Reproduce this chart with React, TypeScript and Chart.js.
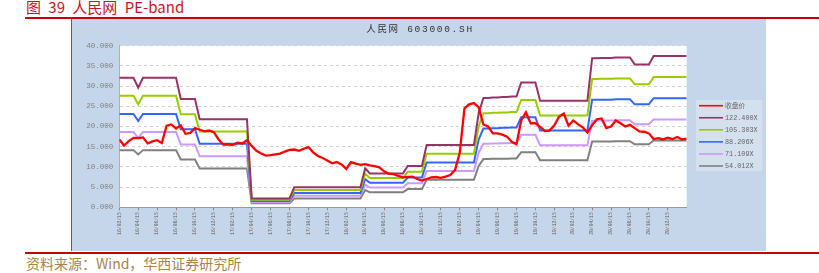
import React, { useEffect, useRef } from 'react';
import { Chart, registerables } from 'chart.js';

Chart.register(...registerables);

const chartTitle = '人民网 603000.SH';
const closeLabel = '收盘价';

const tickLabels = [
  '16/02/15', '16/04/15', '16/06/15', '16/08/15', '16/10/15', '16/12/15',
  '17/02/15', '17/04/15', '17/06/15', '17/08/15', '17/10/15', '17/12/15',
  '18/02/15', '18/04/15', '18/06/15', '18/08/15', '18/10/15', '18/12/15',
  '19/02/15', '19/04/15', '19/06/15', '19/08/15', '19/10/15', '19/12/15',
  '20/02/15', '20/04/15', '20/06/15', '20/08/15', '20/10/15', '20/12/15',
];

// semi-monthly closing price
const closePrice = [
  16.8, 15.3, 16.4, 17.2, 17.1, 17.3, 15.8, 16.3, 16.6, 15.9,
  20.2, 20.5, 19.5, 20.3, 18.2, 18.4, 19.6, 19.2, 18.8, 19.0,
  18.6, 16.8, 15.5, 15.6, 15.4, 16.0, 15.8, 16.6, 15.2, 14.0,
  13.3, 12.8, 12.9, 13.1, 13.3, 13.8, 14.2, 14.3, 14.0, 14.5,
  14.9, 13.6, 12.7, 12.2, 11.6, 10.9, 11.2, 10.6, 9.5, 11.2,
  10.8, 10.5, 10.7, 10.4, 10.2, 9.9, 8.9, 8.3, 8.2, 7.8,
  7.4, 7.5, 7.6, 7.0, 6.6, 7.0, 7.4, 7.5, 7.3, 7.6,
  8.0, 9.2, 13.5, 24.5, 25.5, 25.8, 24.8, 20.5, 20.0, 18.3,
  18.3, 18.0, 17.5, 16.2, 15.6, 21.5, 23.5, 20.8, 20.8, 19.9,
  18.9, 19.0, 20.3, 22.4, 23.2, 20.2, 21.5, 20.6, 19.8, 18.5,
  20.3, 21.8, 22.0, 19.6, 20.0, 21.5, 20.8, 20.0, 20.4, 19.6,
  18.8, 18.7, 18.3, 16.9, 17.1, 16.8, 17.2, 16.9, 17.4, 16.8,
  17.0,
];

// trailing EPS per point (band = EPS x PE multiple)
const eps = [
  0.262, 0.262, 0.262, 0.262, 0.242, 0.262, 0.262, 0.262, 0.262, 0.262,
  0.262, 0.262, 0.262, 0.219, 0.219, 0.219, 0.219, 0.178, 0.178, 0.178,
  0.178, 0.178, 0.178, 0.178, 0.178, 0.178, 0.178, 0.178, 0.018, 0.018,
  0.018, 0.018, 0.018, 0.018, 0.018, 0.018, 0.018, 0.0404, 0.0404, 0.0404,
  0.0404, 0.0404, 0.0404, 0.0404, 0.0404, 0.0404, 0.0404, 0.0404, 0.0404, 0.0404,
  0.0404, 0.0404, 0.079, 0.0686, 0.0686, 0.0686, 0.0686, 0.0686, 0.0686, 0.0686,
  0.0686, 0.0835, 0.0835, 0.0835, 0.0835, 0.126, 0.126, 0.126, 0.126, 0.126,
  0.126, 0.126, 0.126, 0.126, 0.126, 0.126, 0.19, 0.221, 0.221, 0.222,
  0.222, 0.223, 0.223, 0.224, 0.224, 0.2524, 0.2524, 0.2524, 0.2524, 0.2157,
  0.2157, 0.2157, 0.2157, 0.2157, 0.2157, 0.2157, 0.2157, 0.2157, 0.2157, 0.2157,
  0.3015, 0.3015, 0.302, 0.302, 0.302, 0.303, 0.303, 0.303, 0.303, 0.289,
  0.289, 0.289, 0.289, 0.306, 0.306, 0.306, 0.306, 0.306, 0.306, 0.306,
  0.306,
];

const peMultiples = [122.4, 105.303, 88.206, 71.109, 54.012];
const bandColors = ['#993366', '#99cc00', '#3366ff', '#cc99ff', '#808080'];
const closeColor = '#ff0000';

const MONO = '"Liberation Mono", "DejaVu Sans Mono", "Noto Sans CJK SC", monospace';
const CJK = '"Noto Sans CJK SC", "Noto Sans", sans-serif';

const CANVAS_W = 694;
const CANVAS_H = 232;

const plotBgPlugin = {
  id: 'plotBg',
  beforeDraw(chart: any) {
    const { ctx, chartArea } = chart;
    ctx.save();
    ctx.fillStyle = '#ffffff';
    ctx.fillRect(chartArea.left, chartArea.top, chartArea.right - chartArea.left, chartArea.bottom - chartArea.top);
    ctx.restore();
  },
};

const titlePlugin = {
  id: 'customTitle',
  afterDraw(chart: any) {
    const ctx = chart.ctx;
    ctx.save();
    ctx.font = `9.5px ${MONO}`;
    ctx.fillStyle = '#333333';
    ctx.textAlign = 'center';
    ctx.textBaseline = 'middle';
    (ctx as any).letterSpacing = '1.7px';
    ctx.fillText(chartTitle, chart.width / 2 + 1, 10);
    ctx.restore();
  },
};

const legendPlugin = {
  id: 'customLegend',
  afterDraw(chart: any) {
    const ctx = chart.ctx;
    const x0 = chart.chartArea.right + 9.3;
    const y0 = 81;
    ctx.save();
    ctx.fillStyle = '#d5e0ee';
    ctx.fillRect(x0, y0, 66, 71);
    chart.data.datasets.forEach((ds: any, i: number) => {
      const y = y0 + 5.7 + i * 12.06;
      ctx.strokeStyle = ds.borderColor;
      ctx.lineWidth = 1.6;
      ctx.beginPath();
      ctx.moveTo(x0 + 3, y);
      ctx.lineTo(x0 + 27, y);
      ctx.stroke();
      ctx.fillStyle = '#666666';
      ctx.font = `6.8px ${MONO}`;
      ctx.textAlign = 'left';
      ctx.textBaseline = 'middle';
      ctx.fillText(ds.label, x0 + 29, y + 0.5);
    });
    ctx.restore();
  },
};

export default function App() {
  const canvasRef = useRef<HTMLCanvasElement | null>(null);

  useEffect(() => {
    if (!canvasRef.current) return;
    const datasets: any[] = [
      {
        label: closeLabel,
        data: closePrice.map((y, x) => ({ x, y })),
        borderColor: closeColor,
        backgroundColor: closeColor,
        borderWidth: 2.3,
        pointRadius: 0,
        tension: 0,
      },
      ...peMultiples.map((m, k) => ({
        label: m.toFixed(3) + 'X',
        data: eps.map((e, x) => ({ x, y: e * m })),
        borderColor: bandColors[k],
        backgroundColor: bandColors[k],
        borderWidth: 2,
        pointRadius: 0,
        tension: 0,
      })),
    ];

    const chart = new Chart(canvasRef.current, {
      type: 'line',
      data: { datasets },
      plugins: [plotBgPlugin, titlePlugin, legendPlugin],
      options: {
        animation: false,
        responsive: false,
        maintainAspectRatio: false,
        layout: { padding: { top: 26.7, right: 79.3, left: 0, bottom: 0 } },
        plugins: {
          legend: { display: false },
          title: { display: false },
          tooltip: { enabled: false },
        },
        scales: {
          x: {
            type: 'linear',
            min: 0,
            max: closePrice.length - 1,
            afterBuildTicks: (scale: any) => {
              scale.ticks = tickLabels.map((_, k) => ({ value: k * 4 }));
            },
            afterFit: (scale: any) => {
              scale.height = 43.7;
            },
            ticks: {
              autoSkip: false,
              minRotation: 90,
              maxRotation: 90,
              padding: 2,
              color: '#606060',
              font: { size: 4.7, family: MONO },
              callback: (v: any) => tickLabels[Math.round(Number(v) / 4)] ?? '',
            },
            grid: { drawOnChartArea: false, tickLength: 3, color: '#888888' },
            border: { color: '#999999' },
          },
          y: {
            min: 0,
            max: 40,
            afterFit: (scale: any) => {
              scale.width = 47.3;
            },
            ticks: {
              stepSize: 5,
              padding: 6,
              color: '#808080',
              font: { size: 7.5, family: MONO },
              callback: (v: any) => Number(v).toFixed(3),
            },
            grid: { color: '#d2d2d2', drawTicks: false },
            border: { color: '#b0b0b0', dash: [3, 3] },
          },
        },
      } as any,
    });
    return () => chart.destroy();
  }, []);

  return (
    <div style={{ position: 'absolute', left: 0, top: 0, width: 819, height: 273, background: '#ffffff', overflow: 'hidden' }}>
      <div
        style={{
          position: 'absolute', left: 26, top: -2, fontFamily: CJK, fontSize: 15, color: '#c8141e',
          whiteSpace: 'pre', wordSpacing: 4, lineHeight: '18px',
        }}
      >
        图 39 人民网 PE-band
      </div>
      <div style={{ position: 'absolute', left: 25, top: 17, width: 794, height: 2, background: '#c80000' }} />
      <div
        style={{
          position: 'absolute', left: 71, top: 19, width: CANVAS_W + 1, height: CANVAS_H,
          background: '#c6d6ea', borderLeft: '1px solid #5a6270', boxSizing: 'border-box',
        }}
      >
        <canvas
          ref={canvasRef}
          width={CANVAS_W}
          height={CANVAS_H}
          style={{ display: 'block', width: CANVAS_W, height: CANVAS_H }}
        />
      </div>
      <div style={{ position: 'absolute', left: 25, top: 252, width: 794, height: 2, background: '#c80000' }} />
      <div
        style={{
          position: 'absolute', left: 26, top: 255, fontFamily: CJK, fontSize: 14, color: '#a8834a',
          whiteSpace: 'pre', lineHeight: '17px',
        }}
      >
        资料来源：Wind，华西证券研究所
      </div>
    </div>
  );
}
